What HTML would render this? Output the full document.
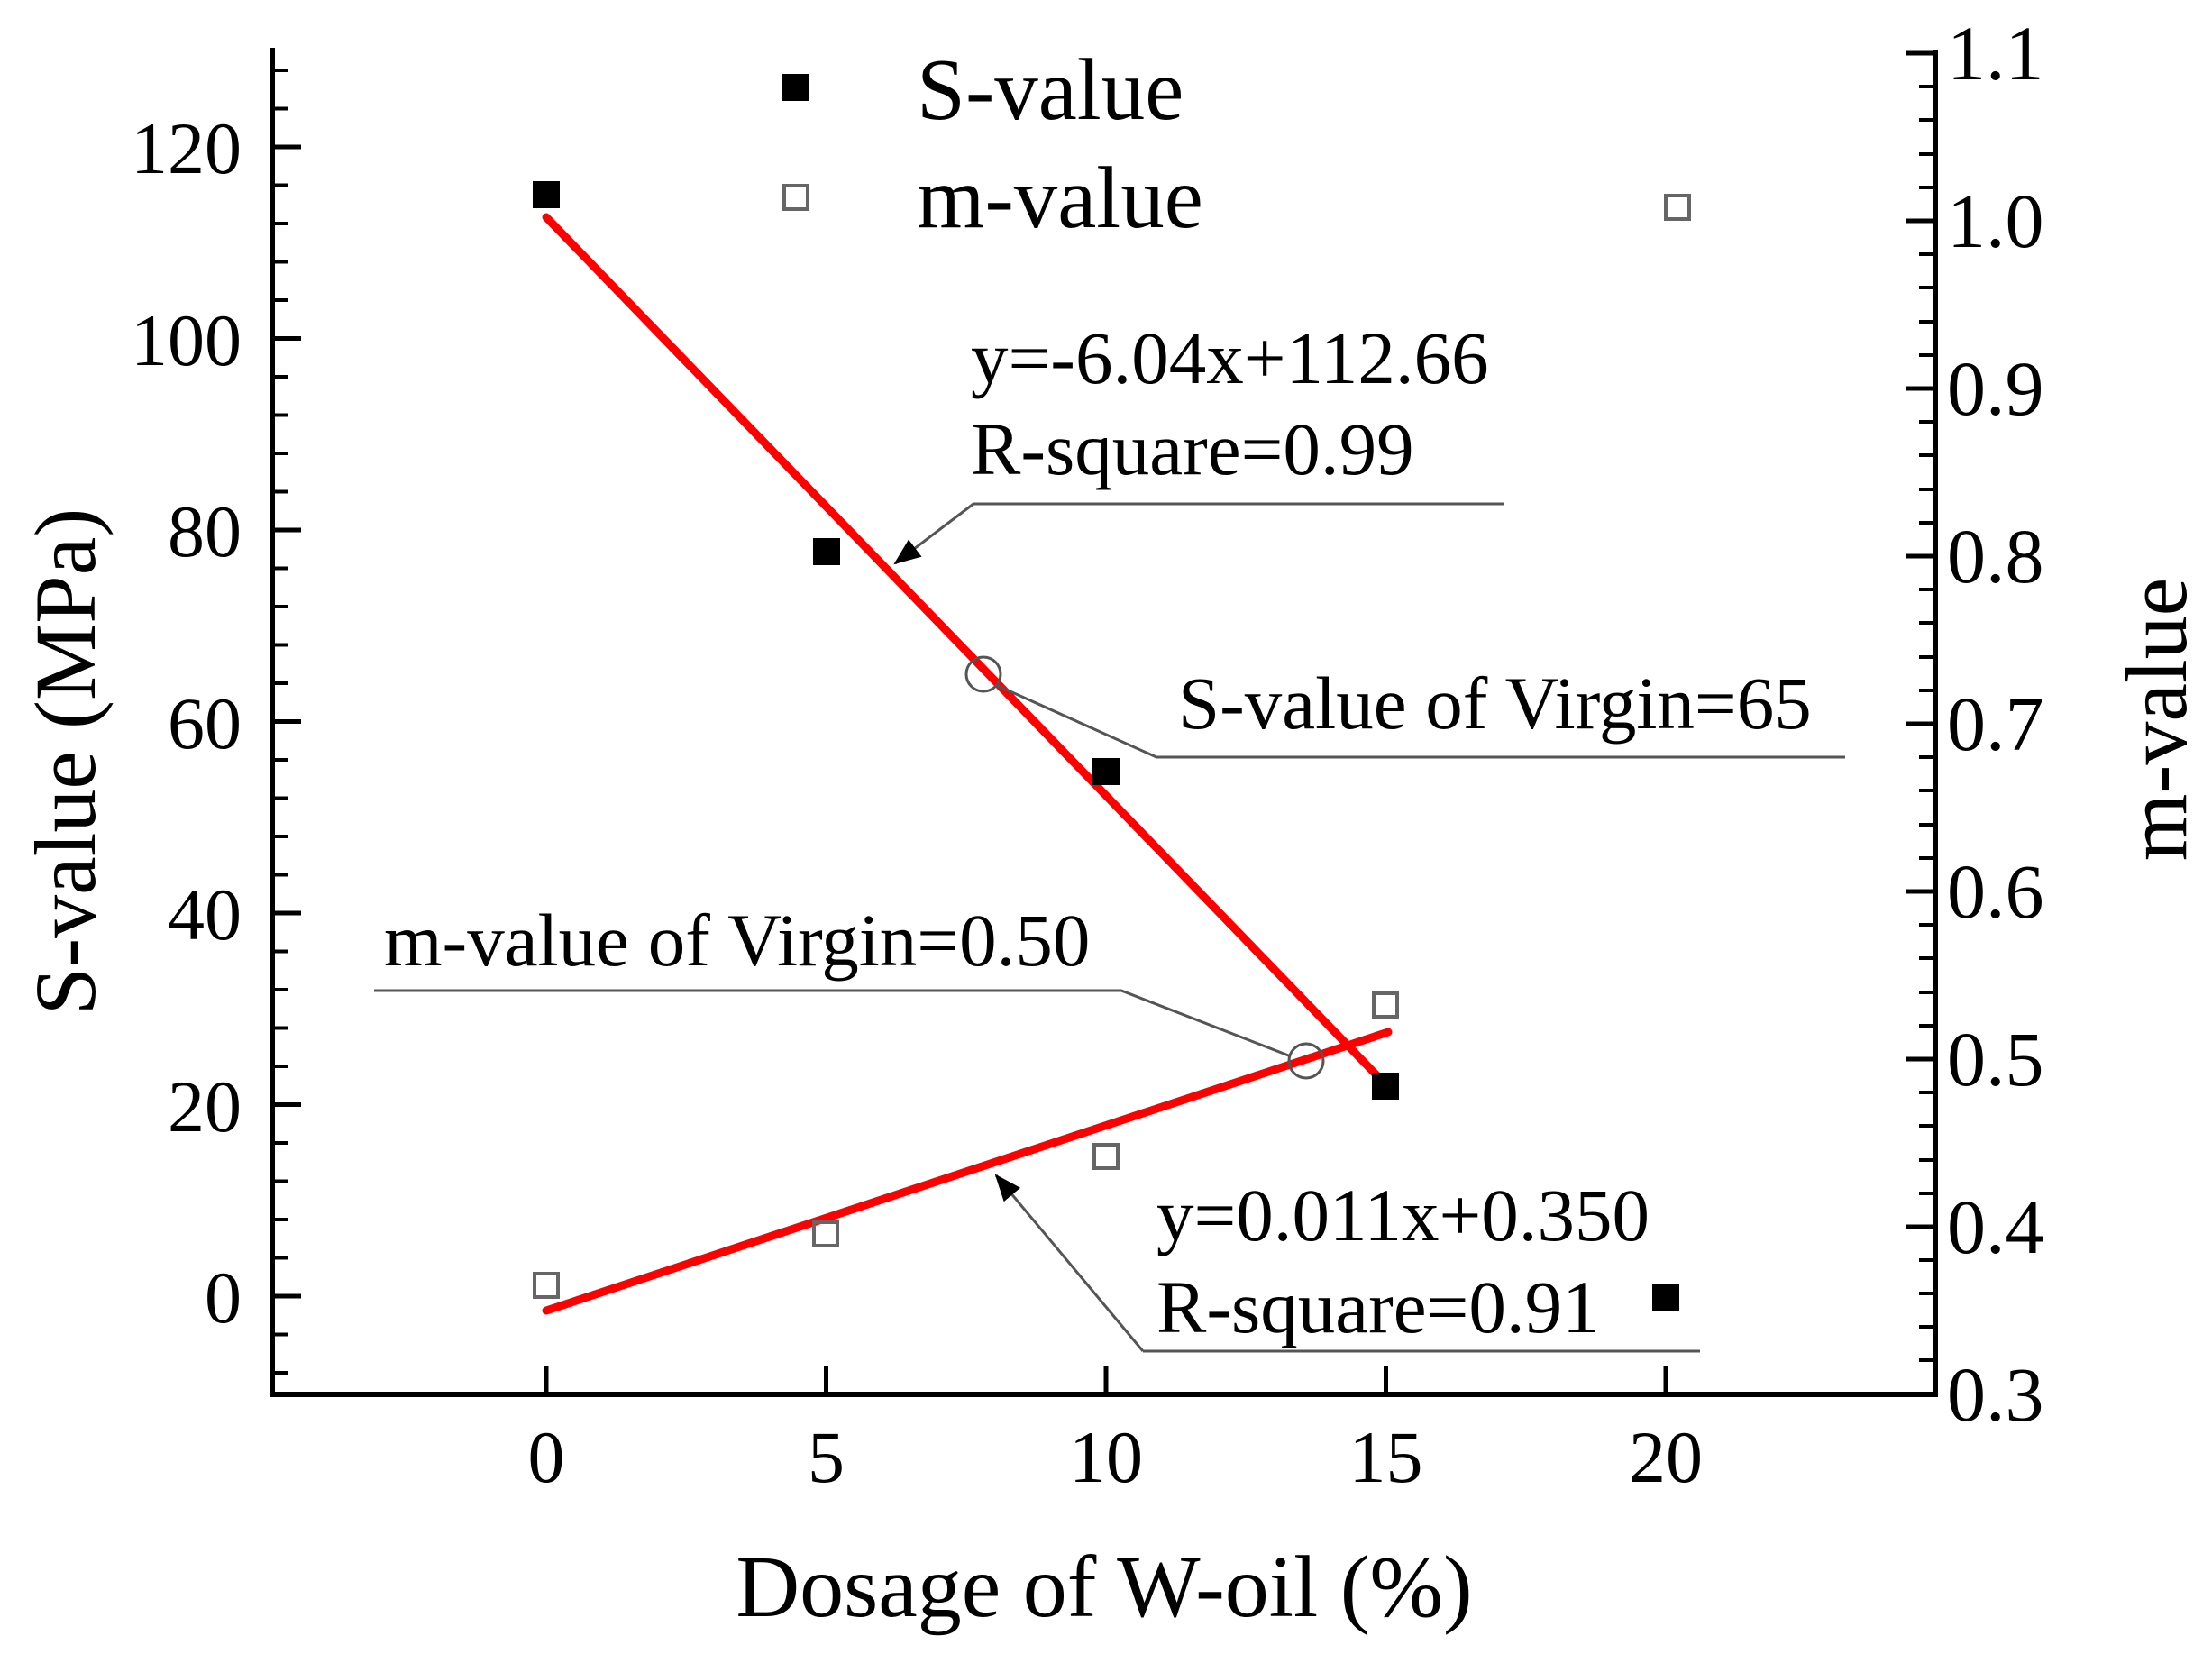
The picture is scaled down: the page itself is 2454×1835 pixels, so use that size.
<!DOCTYPE html>
<html><head><meta charset="utf-8"><style>
html,body{margin:0;padding:0;background:#fff}
svg{display:block}
text{font-family:"Liberation Serif",serif;fill:#000}
</style></head><body>
<svg width="2454" height="1835" viewBox="0 0 2454 1835" xmlns="http://www.w3.org/2000/svg">
<defs>
<marker id="ah" markerWidth="30" markerHeight="24" refX="28" refY="12" orient="auto" markerUnits="userSpaceOnUse" viewBox="0 0 30 24">
<path d="M0,0 L30,12 L0,24 z" fill="#000"/>
</marker>
</defs>
<g stroke="#000" stroke-width="6" fill="none">
<line x1="302" y1="53" x2="302" y2="1550"/>
<line x1="2147" y1="56" x2="2147" y2="1550"/>
<line x1="299" y1="1547" x2="2150" y2="1547"/>
</g>
<g stroke="#000" stroke-width="5">
<line x1="302" y1="163" x2="334" y2="163"/>
<line x1="302" y1="375.5" x2="334" y2="375.5"/>
<line x1="302" y1="588" x2="334" y2="588"/>
<line x1="302" y1="800.5" x2="334" y2="800.5"/>
<line x1="302" y1="1013" x2="334" y2="1013"/>
<line x1="302" y1="1225.5" x2="334" y2="1225.5"/>
<line x1="302" y1="1438" x2="334" y2="1438"/>
</g>
<g stroke="#000" stroke-width="4">
<line x1="302" y1="78" x2="320" y2="78"/><line x1="302" y1="120.5" x2="320" y2="120.5"/>
<line x1="302" y1="205.5" x2="320" y2="205.5"/><line x1="302" y1="248" x2="320" y2="248"/><line x1="302" y1="290.5" x2="320" y2="290.5"/><line x1="302" y1="333" x2="320" y2="333"/>
<line x1="302" y1="418" x2="320" y2="418"/><line x1="302" y1="460.5" x2="320" y2="460.5"/><line x1="302" y1="503" x2="320" y2="503"/><line x1="302" y1="545.5" x2="320" y2="545.5"/>
<line x1="302" y1="630.5" x2="320" y2="630.5"/><line x1="302" y1="673" x2="320" y2="673"/><line x1="302" y1="715.5" x2="320" y2="715.5"/><line x1="302" y1="758" x2="320" y2="758"/>
<line x1="302" y1="843" x2="320" y2="843"/><line x1="302" y1="885.5" x2="320" y2="885.5"/><line x1="302" y1="928" x2="320" y2="928"/><line x1="302" y1="970.5" x2="320" y2="970.5"/>
<line x1="302" y1="1055.5" x2="320" y2="1055.5"/><line x1="302" y1="1098" x2="320" y2="1098"/><line x1="302" y1="1140.5" x2="320" y2="1140.5"/><line x1="302" y1="1183" x2="320" y2="1183"/>
<line x1="302" y1="1268" x2="320" y2="1268"/><line x1="302" y1="1310.5" x2="320" y2="1310.5"/><line x1="302" y1="1353" x2="320" y2="1353"/><line x1="302" y1="1395.5" x2="320" y2="1395.5"/>
<line x1="302" y1="1480.5" x2="320" y2="1480.5"/><line x1="302" y1="1523" x2="320" y2="1523"/>
</g>
<g stroke="#000" stroke-width="5">
<line x1="2115" y1="59" x2="2147" y2="59"/>
<line x1="2115" y1="245" x2="2147" y2="245"/>
<line x1="2115" y1="431" x2="2147" y2="431"/>
<line x1="2115" y1="617" x2="2147" y2="617"/>
<line x1="2115" y1="803" x2="2147" y2="803"/>
<line x1="2115" y1="989" x2="2147" y2="989"/>
<line x1="2115" y1="1175" x2="2147" y2="1175"/>
<line x1="2115" y1="1361" x2="2147" y2="1361"/>
</g>
<g stroke="#000" stroke-width="4">
<line x1="2129" y1="96" x2="2147" y2="96"/><line x1="2129" y1="133" x2="2147" y2="133"/><line x1="2129" y1="171" x2="2147" y2="171"/><line x1="2129" y1="208" x2="2147" y2="208"/>
<line x1="2129" y1="282" x2="2147" y2="282"/><line x1="2129" y1="319" x2="2147" y2="319"/><line x1="2129" y1="357" x2="2147" y2="357"/><line x1="2129" y1="394" x2="2147" y2="394"/>
<line x1="2129" y1="468" x2="2147" y2="468"/><line x1="2129" y1="505" x2="2147" y2="505"/><line x1="2129" y1="543" x2="2147" y2="543"/><line x1="2129" y1="580" x2="2147" y2="580"/>
<line x1="2129" y1="654" x2="2147" y2="654"/><line x1="2129" y1="691" x2="2147" y2="691"/><line x1="2129" y1="729" x2="2147" y2="729"/><line x1="2129" y1="766" x2="2147" y2="766"/>
<line x1="2129" y1="840" x2="2147" y2="840"/><line x1="2129" y1="877" x2="2147" y2="877"/><line x1="2129" y1="915" x2="2147" y2="915"/><line x1="2129" y1="952" x2="2147" y2="952"/>
<line x1="2129" y1="1026" x2="2147" y2="1026"/><line x1="2129" y1="1063" x2="2147" y2="1063"/><line x1="2129" y1="1101" x2="2147" y2="1101"/><line x1="2129" y1="1138" x2="2147" y2="1138"/>
<line x1="2129" y1="1398" x2="2147" y2="1398"/><line x1="2129" y1="1435" x2="2147" y2="1435"/><line x1="2129" y1="1472" x2="2147" y2="1472"/><line x1="2129" y1="1509" x2="2147" y2="1509"/>
<line x1="2129" y1="1212" x2="2147" y2="1212"/><line x1="2129" y1="1249" x2="2147" y2="1249"/><line x1="2129" y1="1287" x2="2147" y2="1287"/><line x1="2129" y1="1324" x2="2147" y2="1324"/>
</g>
<g stroke="#000" stroke-width="5">
<line x1="606" y1="1515" x2="606" y2="1547"/>
<line x1="916.5" y1="1515" x2="916.5" y2="1547"/>
<line x1="1227" y1="1515" x2="1227" y2="1547"/>
<line x1="1537.5" y1="1515" x2="1537.5" y2="1547"/>
<line x1="1848" y1="1515" x2="1848" y2="1547"/>
</g>
<g font-size="82" text-anchor="end">
<text x="268" y="192">120</text>
<text x="268" y="405">100</text>
<text x="268" y="617">80</text>
<text x="268" y="830">60</text>
<text x="268" y="1042">40</text>
<text x="268" y="1255">20</text>
<text x="268" y="1467">0</text>
</g>
<g font-size="86" text-anchor="start">
<text x="2160" y="88">1.1</text>
<text x="2160" y="274">1.0</text>
<text x="2160" y="460">0.9</text>
<text x="2160" y="646">0.8</text>
<text x="2160" y="832">0.7</text>
<text x="2160" y="1018">0.6</text>
<text x="2160" y="1204">0.5</text>
<text x="2160" y="1390">0.4</text>
<text x="2160" y="1576">0.3</text>
</g>
<g font-size="82" text-anchor="middle">
<text x="606" y="1644">0</text>
<text x="916.5" y="1644">5</text>
<text x="1227" y="1644">10</text>
<text x="1537.5" y="1644">15</text>
<text x="1848" y="1644">20</text>
</g>
<text x="1225" y="1793" font-size="98" text-anchor="middle">Dosage of W-oil (%)</text>
<text transform="translate(105,845) rotate(-90)" font-size="96" text-anchor="middle">S-value (MPa)</text>
<text transform="translate(2425,798) rotate(-90)" font-size="96" text-anchor="middle">m-value</text>
<rect x="868" y="82" width="30" height="30" fill="#000"/>
<text x="1017" y="132" font-size="97">S-value</text>
<rect x="870" y="206" width="26" height="26" fill="none" stroke="#666" stroke-width="4"/>
<text x="1017" y="252" font-size="97">m-value</text>
<g stroke="#ff0000" stroke-width="9" stroke-linecap="round">
<line x1="606" y1="241" x2="1538" y2="1204"/>
<line x1="606" y1="1454" x2="1540" y2="1145"/>
</g>
<g fill="#000">
<rect x="591" y="201" width="30" height="30"/>
<rect x="902" y="597" width="30" height="30"/>
<rect x="1212" y="841" width="30" height="30"/>
<rect x="1522" y="1190" width="30" height="30"/>
<rect x="1833" y="1425" width="30" height="30"/>
</g>
<g fill="none" stroke="#666" stroke-width="4">
<rect x="593" y="1413" width="26" height="26"/>
<rect x="903" y="1356" width="26" height="26"/>
<rect x="1214" y="1270" width="26" height="26"/>
<rect x="1524" y="1102" width="26" height="26"/>
<rect x="1848" y="217" width="26" height="26"/>
</g>
<g stroke="#555" stroke-width="3" fill="none">
<polyline points="1668,559 1080,559"/>
<line x1="1080" y1="559" x2="993" y2="625" marker-end="url(#ah)"/>
<circle cx="1091" cy="748" r="19"/>
<polyline points="1105,760 1283,840 2047,840"/>
<polyline points="415,1099 1244,1099 1432,1172"/>
<circle cx="1449" cy="1177" r="19"/>
<polyline points="1886,1499 1268,1499"/>
<line x1="1268" y1="1499" x2="1105" y2="1304" marker-end="url(#ah)"/>
</g>
<g font-size="83">
<text x="1077" y="425">y=-6.04x+112.66</text>
<text x="1077" y="526">R-square=0.99</text>
<text x="1307" y="808">S-value of Virgin=65</text>
<text x="426" y="1071">m-value of Virgin=0.50</text>
<text x="1283" y="1376">y=0.011x+0.350</text>
<text x="1283" y="1478">R-square=0.91</text>
</g>
</svg>
</body></html>
